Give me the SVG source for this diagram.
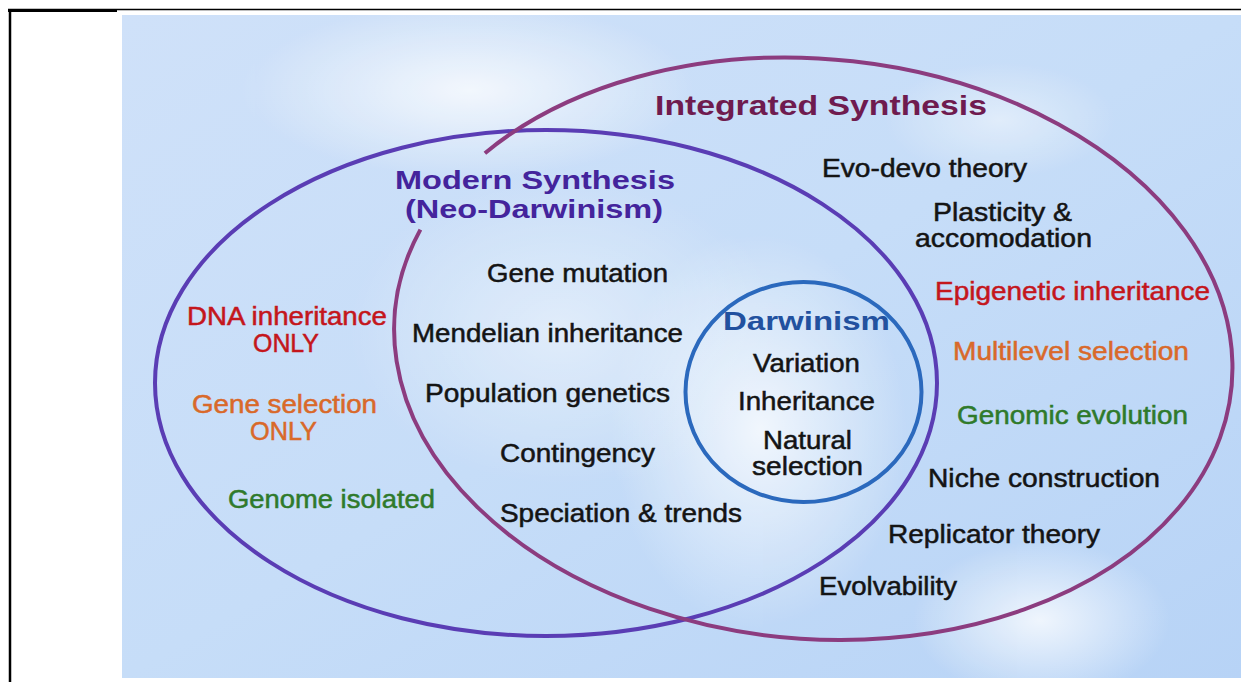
<svg xmlns="http://www.w3.org/2000/svg" width="1241" height="682" viewBox="0 0 1241 682">
<defs>
<linearGradient id="bg" x1="0" y1="0" x2="1" y2="1">
<stop offset="0" stop-color="#cfe1f9"/>
<stop offset="0.5" stop-color="#c6ddf8"/>
<stop offset="1" stop-color="#b7d3f6"/>
</linearGradient>
<radialGradient id="glow" cx="0.5" cy="0.5" r="0.5">
<stop offset="0" stop-color="#ffffff" stop-opacity="0.85"/>
<stop offset="1" stop-color="#ffffff" stop-opacity="0"/>
</radialGradient>
<style>
.t{font-family:"Liberation Sans",Arial,Helvetica,sans-serif;text-anchor:middle}
.b{font-size:25px;fill:#141414;stroke:#141414;stroke-width:0.5px}
.h{font-weight:bold}
.red{fill:#c4161c;stroke:#c4161c}
.org{fill:#d9692a;stroke:#d9692a}
.grn{fill:#2f7a2b;stroke:#2f7a2b}
.ring{fill:none;stroke-width:4}
</style>
</defs>
<rect x="0" y="0" width="1241" height="682" fill="#ffffff"/>
<rect x="122" y="15" width="1119" height="663" fill="url(#bg)"/>
<g opacity="0.9">
<ellipse cx="470" cy="90" rx="230" ry="90" fill="url(#glow)"/>
<ellipse cx="760" cy="430" rx="150" ry="200" fill="url(#glow)"/>
<ellipse cx="1040" cy="620" rx="130" ry="80" fill="url(#glow)"/>
<ellipse cx="560" cy="330" rx="220" ry="160" fill="url(#glow)" opacity="0.6"/>
<ellipse cx="1000" cy="120" rx="120" ry="60" fill="url(#glow)" opacity="0.6"/>
</g>
<g id="frame" fill="none" stroke="#000">
<line x1="8" y1="9.5" x2="1241" y2="9.5" stroke-width="1.5"/>
<line x1="8" y1="10.5" x2="117" y2="10.5" stroke-width="3"/>
<line x1="10" y1="9" x2="10" y2="682" stroke-width="2.5"/>
</g>
<g id="connectors"/>
<g id="modern-synthesis">
<ellipse class="ring" cx="546" cy="383" rx="391" ry="253" stroke="#5a3db4"/>
<text class="t h" x="535" y="189" font-size="25.5" fill="#44249c" textLength="280" lengthAdjust="spacingAndGlyphs">Modern Synthesis</text>
<text class="t h" x="534" y="218" font-size="25.5" fill="#44249c" textLength="258" lengthAdjust="spacingAndGlyphs">(Neo-Darwinism)</text>
<text class="t b red" x="287" y="325" font-size="21.5" textLength="200" lengthAdjust="spacingAndGlyphs">DNA inheritance</text>
<text class="t b red" x="286" y="352" font-size="21.5" textLength="66" lengthAdjust="spacingAndGlyphs">ONLY</text>
<text class="t b org" x="284.5" y="413" font-size="23" textLength="185" lengthAdjust="spacingAndGlyphs">Gene selection</text>
<text class="t b org" x="283.5" y="440" font-size="23" textLength="67" lengthAdjust="spacingAndGlyphs">ONLY</text>
<text class="t b grn" x="331.5" y="508" font-size="24" textLength="207" lengthAdjust="spacingAndGlyphs">Genome isolated</text>
<text class="t b" x="577.5" y="282" textLength="181" lengthAdjust="spacingAndGlyphs">Gene mutation</text>
<text class="t b" x="547.5" y="342" textLength="271" lengthAdjust="spacingAndGlyphs">Mendelian inheritance</text>
<text class="t b" x="547.5" y="402" textLength="245" lengthAdjust="spacingAndGlyphs">Population genetics</text>
<text class="t b" x="577.5" y="462" textLength="155" lengthAdjust="spacingAndGlyphs">Contingency</text>
<text class="t b" x="621" y="522" textLength="242" lengthAdjust="spacingAndGlyphs">Speciation &amp; trends</text>
</g>
<g id="integrated-synthesis">
<path class="ring" stroke="#8c3c7f" d="M 484.9 153.2 A 420 290 5 1 1 420.4 229.6"/>
<text class="t h" x="821" y="115" font-size="27" fill="#6f1b4f" textLength="332" lengthAdjust="spacingAndGlyphs">Integrated Synthesis</text>
<text class="t b" x="924.5" y="177" textLength="205" lengthAdjust="spacingAndGlyphs">Evo-devo theory</text>
<text class="t b" x="1002.5" y="221" font-size="22.5" textLength="139" lengthAdjust="spacingAndGlyphs">Plasticity &amp;</text>
<text class="t b" x="1003.5" y="247" font-size="22.5" textLength="177" lengthAdjust="spacingAndGlyphs">accomodation</text>
<text class="t b red" x="1072.5" y="300" textLength="275" lengthAdjust="spacingAndGlyphs">Epigenetic inheritance</text>
<text class="t b org" x="1071" y="360" textLength="236" lengthAdjust="spacingAndGlyphs">Multilevel selection</text>
<text class="t b grn" x="1072.5" y="424" textLength="231" lengthAdjust="spacingAndGlyphs">Genomic evolution</text>
<text class="t b" x="1044" y="487" textLength="232" lengthAdjust="spacingAndGlyphs">Niche construction</text>
<text class="t b" x="994" y="543" textLength="212" lengthAdjust="spacingAndGlyphs">Replicator theory</text>
<text class="t b" x="888" y="595" textLength="138" lengthAdjust="spacingAndGlyphs">Evolvability</text>
</g>
<g id="darwinism">
<ellipse class="ring" cx="803.5" cy="392" rx="118" ry="110" stroke="#2b69bd"/>
<text class="t h" x="806.5" y="330" font-size="26" fill="#22519f" textLength="167" lengthAdjust="spacingAndGlyphs">Darwinism</text>
<text class="t b" x="806.5" y="372" textLength="107" lengthAdjust="spacingAndGlyphs">Variation</text>
<text class="t b" x="806.5" y="410" textLength="137" lengthAdjust="spacingAndGlyphs">Inheritance</text>
<text class="t b" x="807.5" y="449" font-size="22.5" textLength="89" lengthAdjust="spacingAndGlyphs">Natural</text>
<text class="t b" x="807.5" y="475" font-size="22.5" textLength="111" lengthAdjust="spacingAndGlyphs">selection</text>
</g>
</svg>
